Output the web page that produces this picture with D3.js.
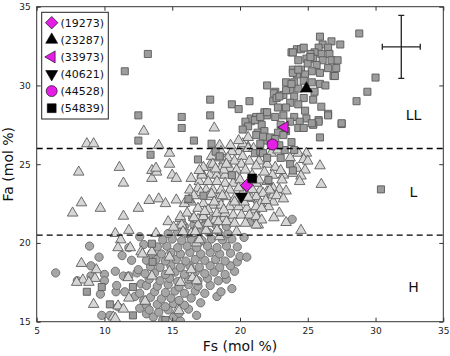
<!DOCTYPE html>
<html><head><meta charset="utf-8">
<script src="https://cdn.jsdelivr.net/npm/d3@7"></script>
<style>body{margin:0;background:#fff}svg{display:block}text{font-family:"DejaVu Sans",sans-serif}</style>
</head><body><svg id="c" width="450" height="356"></svg>
<script>
const xTicks=[5,10,15,20,25,30,35];
const yTicks=[15,20,25,30,35];
const boundaries=[26,20.5];
const regionNames=["LL","L","H"];
const regionFa=[28.1,23.2,17.2];
const regionFs=[32.8,32.8,32.8];
const sampleIds=["(19273)","(23287)","(33973)","(40621)","(44528)","(54839)"];
const sampleFs=[20.5,24.9,23.3,20.1,22.4,20.9];
const sampleFa=[23.65,29.8,27.35,22.95,26.25,24.1];
const errCenter=[31.9,32.45];
const errSize=[1.4,2.0];

const circlesH=[[6.4,18.1],[8.0,17.6],[9.0,17.9],[9.0,18.55],[9.6,19.1],[10.0,18.0],[10.0,17.6],[9.7,16.75],[9.8,15.4],[10.4,15.4],[11.0,15.95],[10.8,18.2],[10.85,16.9],[10.9,17.3],[11.4,17.9],[11.5,16.9],[11.8,17.9],[12.4,18.1],[12.5,18.3],[12.25,16.6],[12.6,16.8],[12.7,17.4],[12.6,15.85],[13.1,15.5],[13.1,16.05],[8.9,19.8],[11.8,19.7],[12.9,19.9],[12.6,20.4],[11.3,19.2],[12.0,18.9],
[13.6,15.3],[14.3,15.1],[15.1,15.3],[15.6,15.05],[16.8,15.4],
[13.3,15.75],[14.0,15.6],[14.7,15.75],[15.5,15.55],[16.2,15.8],
[13.9,16.1],[14.5,15.95],[15.1,16.15],[15.9,16.05],[17.1,16.2],
[12.9,16.35],[13.4,16.55],[14.2,16.45],[14.9,16.5],[15.5,16.35],[16.4,16.5],[18.3,16.6],
[13.7,16.9],[14.5,16.85],[15.2,16.95],[15.9,16.8],[16.7,16.95],[17.4,16.8],[18.6,16.9],[19.4,17.1],
[13.1,17.3],[13.9,17.25],[14.7,17.35],[15.5,17.2],[16.2,17.35],[16.9,17.25],[17.8,17.3],
[13.3,17.7],[14.1,17.6],[14.8,17.75],[15.4,17.55],[16.2,17.7],[16.9,17.6],[17.6,17.75],[18.4,17.6],[19.0,17.7],
[13.0,18.05],[13.7,18.1],[14.5,18.0],[15.2,18.15],[15.9,18.0],[16.7,18.15],[17.4,18.05],[18.1,18.15],[18.9,18.0],[19.6,18.2],
[13.4,18.5],[14.1,18.45],[14.9,18.55],[15.6,18.45],[16.3,18.55],[17.0,18.45],[17.8,18.55],[18.5,18.45],[19.3,18.55],
[13.1,18.9],[13.8,18.95],[14.5,18.85],[15.3,18.95],[16.0,18.85],[16.7,18.95],[17.4,18.9],[18.2,18.95],[18.9,18.85],[19.8,18.8],
[13.5,19.35],[14.2,19.3],[14.9,19.4],[15.6,19.3],[16.3,19.4],[17.1,19.3],[17.8,19.4],[18.5,19.3],[19.3,19.35],[20.0,19.15],[20.5,19.1],
[13.9,19.75],[14.6,19.8],[15.4,19.7],[16.1,19.8],[16.8,19.7],[17.6,19.8],[18.3,19.7],[19.0,19.8],[19.8,19.75],
[14.3,20.2],[15.0,20.25],[15.7,20.15],[16.4,20.25],[17.2,20.15],[17.9,20.25],[18.7,20.2],[19.4,20.25],[20.3,20.35],
[14.7,20.6],[15.4,20.7],[16.1,20.6],[16.9,20.7],[17.7,20.65],[18.4,20.7],[19.1,20.6],
[15.9,21.05],[16.6,21.15],[17.4,21.1],[18.2,21.15],[19.0,21.05],[20.8,21.35],
[16.5,21.6],[17.3,21.65],[18.0,21.55],[23.85,21.5]];

const trianglesL=[[8.7,26.3],[9.2,26.3],[8.1,24.5],[11.1,24.8],[11.4,23.8],[8.3,22.55],[7.65,21.9],[9.7,22.2],[11.4,21.7],[12.5,22.2],[13.3,22.7],[12.9,27.1],[13.5,24.6],[13.5,24.1],[13.85,24.5],[14.0,22.8],[11.8,20.8],[10.8,20.6],[11.2,20.2],[13.8,20.6],[14.0,26.2],
[14.7,21.35],[15.7,21.35],[11.0,19.7],[11.9,19.7],[12.7,19.44],[13.5,19.44],[8.3,18.7],[9.4,18.3],[11.75,17.8],[9.3,17.75],[8.4,17.65],[13.5,17.9],[14.8,18.2],[15.6,17.5],[16.5,17.8],[9.2,16.1],[11.0,16.0],[10.65,15.3],[15.4,15.75],[14.8,19.1],[16.8,20.0],[16.4,20.6],[16.9,21.5],[17.5,20.8],[18.15,21.46],[18.8,21.56],[19.4,21.46],[18.5,20.4],
[7.95,17.5],[8.85,17.5],[11.8,16.5],[11.4,15.8],[10.8,15.2],[13.0,16.3],[15.5,15.7],[16.8,17.6],[16.4,18.3],[12.8,19.3],
[20.6,26.1],[19.9,25.8],[19.4,25.8],[20.2,25.5],[19.1,25.4],[19.6,25.2],[18.8,25.2],[20.1,25.0],[20.7,25.2],[18.6,24.74],[19.25,24.74],[19.75,24.63],[20.4,24.63],[17.2,24.42],[17.8,24.31],[18.3,24.31],[18.9,24.31],[19.75,24.2],[16.4,24.1],[17.0,23.9],[17.65,23.9],[18.3,23.9],[18.9,23.79],[19.5,23.79],[16.3,23.36],[16.9,23.47],[17.5,23.36],[18.0,23.36],[18.6,23.36],[19.25,23.36],[21.5,23.36],[22.0,23.25],[22.45,23.47],[21.2,23.79],[22.0,23.9],[17.65,22.94],[18.4,22.83],[19.0,22.94],[19.6,22.83],[20.85,22.83],[21.35,22.73],[17.3,22.5],[18.0,22.4],[18.6,22.4],[19.25,22.3],[19.9,22.3],[20.5,22.2],[21.1,22.1],[16.4,22.6],[15.9,22.5],[15.3,22.73],[15.6,21.56],[17.65,22.1],[18.3,21.88],[18.9,21.88],[19.5,21.77],[20.1,21.77],[20.7,21.77],[17.3,21.67],[16.9,21.14],[17.65,21.25],[18.4,21.35],[19.0,21.35],[19.6,21.25],[21.35,21.56],[21.35,21.14],[22.45,22.6],[22.1,22.3],[20.4,21.25],[19.75,20.71],[18.3,20.82],
[24.3,25.7],[24.9,25.7],[23.7,25.4],[24.7,25.3],[25.0,25.2],[25.9,24.9],[24.2,24.74],[24.8,24.63],[23.9,24.42],[23.2,24.31],[24.5,24.25],[23.1,24.0],[24.4,23.9],[26.0,23.72],[22.9,23.4],[23.4,23.3],[22.45,23.04],[22.2,23.36],[21.7,23.15],[21.2,22.94],[21.5,22.5],[21.2,22.3],[21.6,22.2],[21.2,21.67],[21.6,21.46],[21.2,21.14],[24.5,20.8],
[14.8,25.7],[14.8,25.0],[13.8,24.75],[15.0,24.31],[15.3,24.1],[16.25,22.73],[14.5,22.5],[15.6,21.67],[15.7,21.14],[15.1,21.0],[15.8,20.71],[16.7,20.71],[17.0,20.2],
[17.9,25.5],[17.8,24.95],[17.2,24.31],[18.5,25.4],[18.8,24.63],
[18.1,27.3],[20.7,27.7],[18.5,26.2],[20.2,26.3],[20.6,26.7],[20.6,26.0],
[21.0,26.0],[21.6,25.7],[22.3,25.7],[22.8,25.9],[21.4,25.2],[22.0,25.0],[22.6,24.8],[21.8,24.5],[22.4,24.3],[23.0,24.6],[21.2,24.9],[20.9,24.3],[21.4,24.0],
[17.3,24.8],[18.0,25.0],[18.6,25.8],[19.3,26.2],[19.9,26.5],[17.0,24.6],[18.2,24.7],[19.0,25.0],[20.0,24.0],[20.6,23.7],[20.2,23.2],[19.9,23.5],[18.7,23.0],[17.9,23.1],[17.1,23.2],[16.6,23.0],[16.9,22.2],[17.4,22.0],[16.1,21.9],[16.6,21.6],[18.1,22.6],[18.8,22.1],[19.6,22.6],[20.3,22.6],[20.9,23.4],[20.6,22.9],[21.9,22.7],[22.7,23.0],[23.2,22.8],[22.9,21.9],[22.5,21.6],[23.4,21.3]];

const squaresLL=[[11.5,30.9],[13.2,32.0],[12.5,28.1],[12.5,26.5],[13.4,25.6],[13.5,19.95],[17.8,29.1],[17.8,28.1],[15.7,28.0],[15.7,27.3],[16.6,26.5],[17.9,26.3],[19.4,28.8],[19.9,28.5],[20.7,29.0],[22.0,30.0],
[28.8,33.3],[30.0,30.5],[29.4,29.6],[28.6,29.0],[27.5,27.55],[25.9,26.7],[26.5,28.2],[25.4,27.55],[25.8,27.8],[30.4,23.4],
[25.9,33.1],[26.75,32.8],[27.4,32.6],[26.1,32.6],[26.5,32.4],[25.8,32.4],[26.6,32.0],[26.0,32.0],[25.5,32.1],[25.2,32.0],[23.8,32.1],[24.2,32.3],[24.5,32.3],[24.3,31.6],[24.9,31.7],[25.4,31.7],[26.1,31.6],[26.75,31.6],[27.2,31.6],[25.0,31.4],[25.65,31.3],[26.5,31.1],[27.1,31.1],[23.9,31.0],[24.5,31.0],[25.3,30.9],[25.9,30.8],[26.9,30.6],[24.2,30.7],[24.8,30.7],[23.4,30.2],[24.0,30.2],[24.7,30.3],[25.3,30.2],[25.9,30.1],[23.7,29.7],[24.3,29.8],[25.5,29.6],[22.6,29.6],[23.2,29.4],[24.0,29.3],[24.7,29.2],[25.4,29.1],[22.45,29.0],[23.7,28.9],[24.3,28.8],[22.8,28.6],[23.4,28.6],[24.8,28.4],[26.0,28.65],[23.2,28.1],[24.0,28.0],[22.6,28.0],[24.9,27.9],[26.5,28.1],[23.7,27.7],[24.4,27.7],[23.0,27.5],[25.8,27.7],[25.4,27.5],[27.5,27.6],[26.3,30.0],[27.0,30.6],
[18.2,25.8],[18.5,25.5],[16.9,25.3],[19.4,24.3],[17.3,23.0],[16.2,22.8],[22.1,24.0],[21.1,25.7],[21.5,25.8],
[20.8,27.9],[21.2,28.0],[21.3,27.0],[21.8,26.5],[21.7,25.7],[22.0,25.4],[23.0,25.4],[23.7,25.0],[23.9,24.6],[23.8,26.4],[23.3,25.9],
[22.5,29.5],[22.7,29.2],[21.8,28.3],[22.0,28.1],[21.6,27.5],[21.8,27.1],[22.2,26.7],[22.8,27.0],[23.4,27.1],[24.3,27.3],[24.7,27.3],
[20.4,27.7],[20.6,27.4],[20.2,27.2],[21.1,27.8],[21.5,28.0],[22.0,28.3],[21.2,26.85],[21.7,26.75],[21.5,26.3],[22.6,26.6],[23.2,26.85],[22.9,26.2],[24.0,25.9],[22.9,29.3],[23.4,29.7],[23.8,30.1],[23.9,30.8],[24.3,31.0],[23.9,32.1],[24.7,32.4],[25.2,31.8],[25.3,27.6],
[13.55,18.8],[9.8,17.2],[8.7,16.9],[10.4,16.1],[12.1,15.4],[12.1,17.2],[14.5,15.1]];

const W=450,H=356,L=36.7,R=443.3,T=6.7,B=321.7;
const svg=d3.select("#c");
svg.append("rect").attr("width",W).attr("height",H).attr("fill","#fff");
const x=d3.scaleLinear().domain([5,35]).range([L,R]);
const y=d3.scaleLinear().domain([15,35]).range([B,T]);
svg.append("clipPath").attr("id","clip").append("rect").attr("x",L).attr("y",T).attr("width",R-L).attr("height",B-T);
const g=svg.append("g").attr("clip-path","url(#clip)");

const sym=(type,size)=>d3.symbol().type(type).size(size)();
g.selectAll("path.c").data(circlesH).join("path").attr("class","c")
 .attr("d",sym(d3.symbolCircle,54)).attr("transform",d=>`translate(${x(d[0])},${y(d[1])})`)
 .attr("fill","#a6a6a6").attr("stroke","#6a6a6a").attr("stroke-width",0.9);
g.selectAll("path.t").data(trianglesL).join("path").attr("class","t")
 .attr("d",sym(d3.symbolTriangle,48)).attr("transform",d=>`translate(${x(d[0])},${y(d[1])})`)
 .attr("fill","#d6d6d6").attr("stroke","#5e5e5e").attr("stroke-width",0.9);
g.selectAll("path.s").data(squaresLL).join("path").attr("class","s")
 .attr("d",sym(d3.symbolSquare,50)).attr("transform",d=>`translate(${x(d[0])},${y(d[1])})`)
 .attr("fill","#9c9c9c").attr("stroke","#5a5a5a").attr("stroke-width",0.9);

g.selectAll("line.b").data(boundaries).join("line").attr("class","b")
 .attr("x1",L).attr("x2",R).attr("y1",d=>y(d)).attr("y2",d=>y(d))
 .attr("stroke","#000").attr("stroke-width",1.4).attr("stroke-dasharray","6,4");

const MAG="#e41ee4";
const shapes=[
 {t:d3.symbolSquare,s:78,r:45,c:MAG},
 {t:d3.symbolTriangle,s:62,r:0,c:"#000"},
 {t:d3.symbolTriangle,s:62,r:-90,c:MAG},
 {t:d3.symbolTriangle,s:62,r:180,c:"#000"},
 {t:d3.symbolCircle,s:95,r:0,c:MAG},
 {t:d3.symbolSquare,s:78,r:0,c:"#000"}];
sampleIds.forEach((id,i)=>{
 const sh=shapes[i];
 g.append("path").attr("d",sym(sh.t,sh.s))
  .attr("transform",`translate(${x(sampleFs[i])},${y(sampleFa[i])}) rotate(${sh.r})`)
  .attr("fill",sh.c).attr("stroke","#000").attr("stroke-width",0.6);
});

const eb=g.append("g").attr("stroke","#222").attr("stroke-width",1.3);
const cx=x(errCenter[0]),cy=y(errCenter[1]);
const x0=x(errCenter[0]-errSize[0]),x1=x(errCenter[0]+errSize[0]);
const y0=y(errCenter[1]-errSize[1]),y1=y(errCenter[1]+errSize[1]);
eb.append("line").attr("x1",x0).attr("x2",x1).attr("y1",cy).attr("y2",cy);
eb.append("line").attr("x1",cx).attr("x2",cx).attr("y1",y0).attr("y2",y1);
eb.append("line").attr("x1",x0).attr("x2",x0).attr("y1",cy-3).attr("y2",cy+3);
eb.append("line").attr("x1",x1).attr("x2",x1).attr("y1",cy-3).attr("y2",cy+3);
eb.append("line").attr("x1",cx-3).attr("x2",cx+3).attr("y1",y0).attr("y2",y0);
eb.append("line").attr("x1",cx-3).attr("x2",cx+3).attr("y1",y1).attr("y2",y1);

regionNames.forEach((n,i)=>{
 svg.append("text").attr("x",x(regionFs[i])).attr("y",y(regionFa[i])).attr("dy","0.35em")
  .attr("text-anchor","middle").attr("font-size",14).attr("fill","#111").text(n);
});

const ax=(a)=>a.tickSizeInner(-4).tickSizeOuter(0);
const xb=svg.append("g").attr("transform",`translate(0,${B})`).call(ax(d3.axisBottom(x).tickValues(xTicks)).tickPadding(6));
const xt=svg.append("g").attr("transform",`translate(0,${T})`).call(ax(d3.axisTop(x).tickValues(xTicks)).tickFormat(""));
const yl=svg.append("g").attr("transform",`translate(${L},0)`).call(ax(d3.axisLeft(y).tickValues(yTicks)).tickPadding(6));
const yr=svg.append("g").attr("transform",`translate(${R},0)`).call(ax(d3.axisRight(y).tickValues(yTicks)).tickFormat(""));
[xb,xt,yl,yr].forEach(a=>{a.select(".domain").remove();a.selectAll("line").attr("stroke","#333");
 a.selectAll("text").attr("font-family","DejaVu Sans").attr("font-size",9).attr("fill","#222");});
svg.append("rect").attr("x",L).attr("y",T).attr("width",R-L).attr("height",B-T)
 .attr("fill","none").attr("stroke","#333").attr("stroke-width",1);

svg.append("text").attr("x",(L+R)/2).attr("y",351).attr("text-anchor","middle").attr("font-size",14).attr("fill","#111").text("Fs (mol %)");
svg.append("text").attr("transform",`translate(13,${(T+B)/2}) rotate(-90)`).attr("text-anchor","middle").attr("font-size",14).attr("fill","#111").text("Fa (mol %)");

const lg=svg.append("g");
lg.append("rect").attr("x",41.7).attr("y",12.3).attr("width",66.6).attr("height",106.7).attr("fill","#fff").attr("stroke","#222").attr("stroke-width",1);
sampleIds.forEach((id,i)=>{
 const sh=shapes[i]; const yy=22.7+i*17.1;
 lg.append("path").attr("d",sym(sh.t,sh.s)).attr("transform",`translate(51.7,${yy}) rotate(${sh.r})`)
  .attr("fill",sh.c).attr("stroke","#000").attr("stroke-width",0.6);
 lg.append("text").attr("x",60.5).attr("y",yy).attr("dy","0.36em").attr("font-size",11).attr("fill","#111").text(id);
});
</script></body></html>
